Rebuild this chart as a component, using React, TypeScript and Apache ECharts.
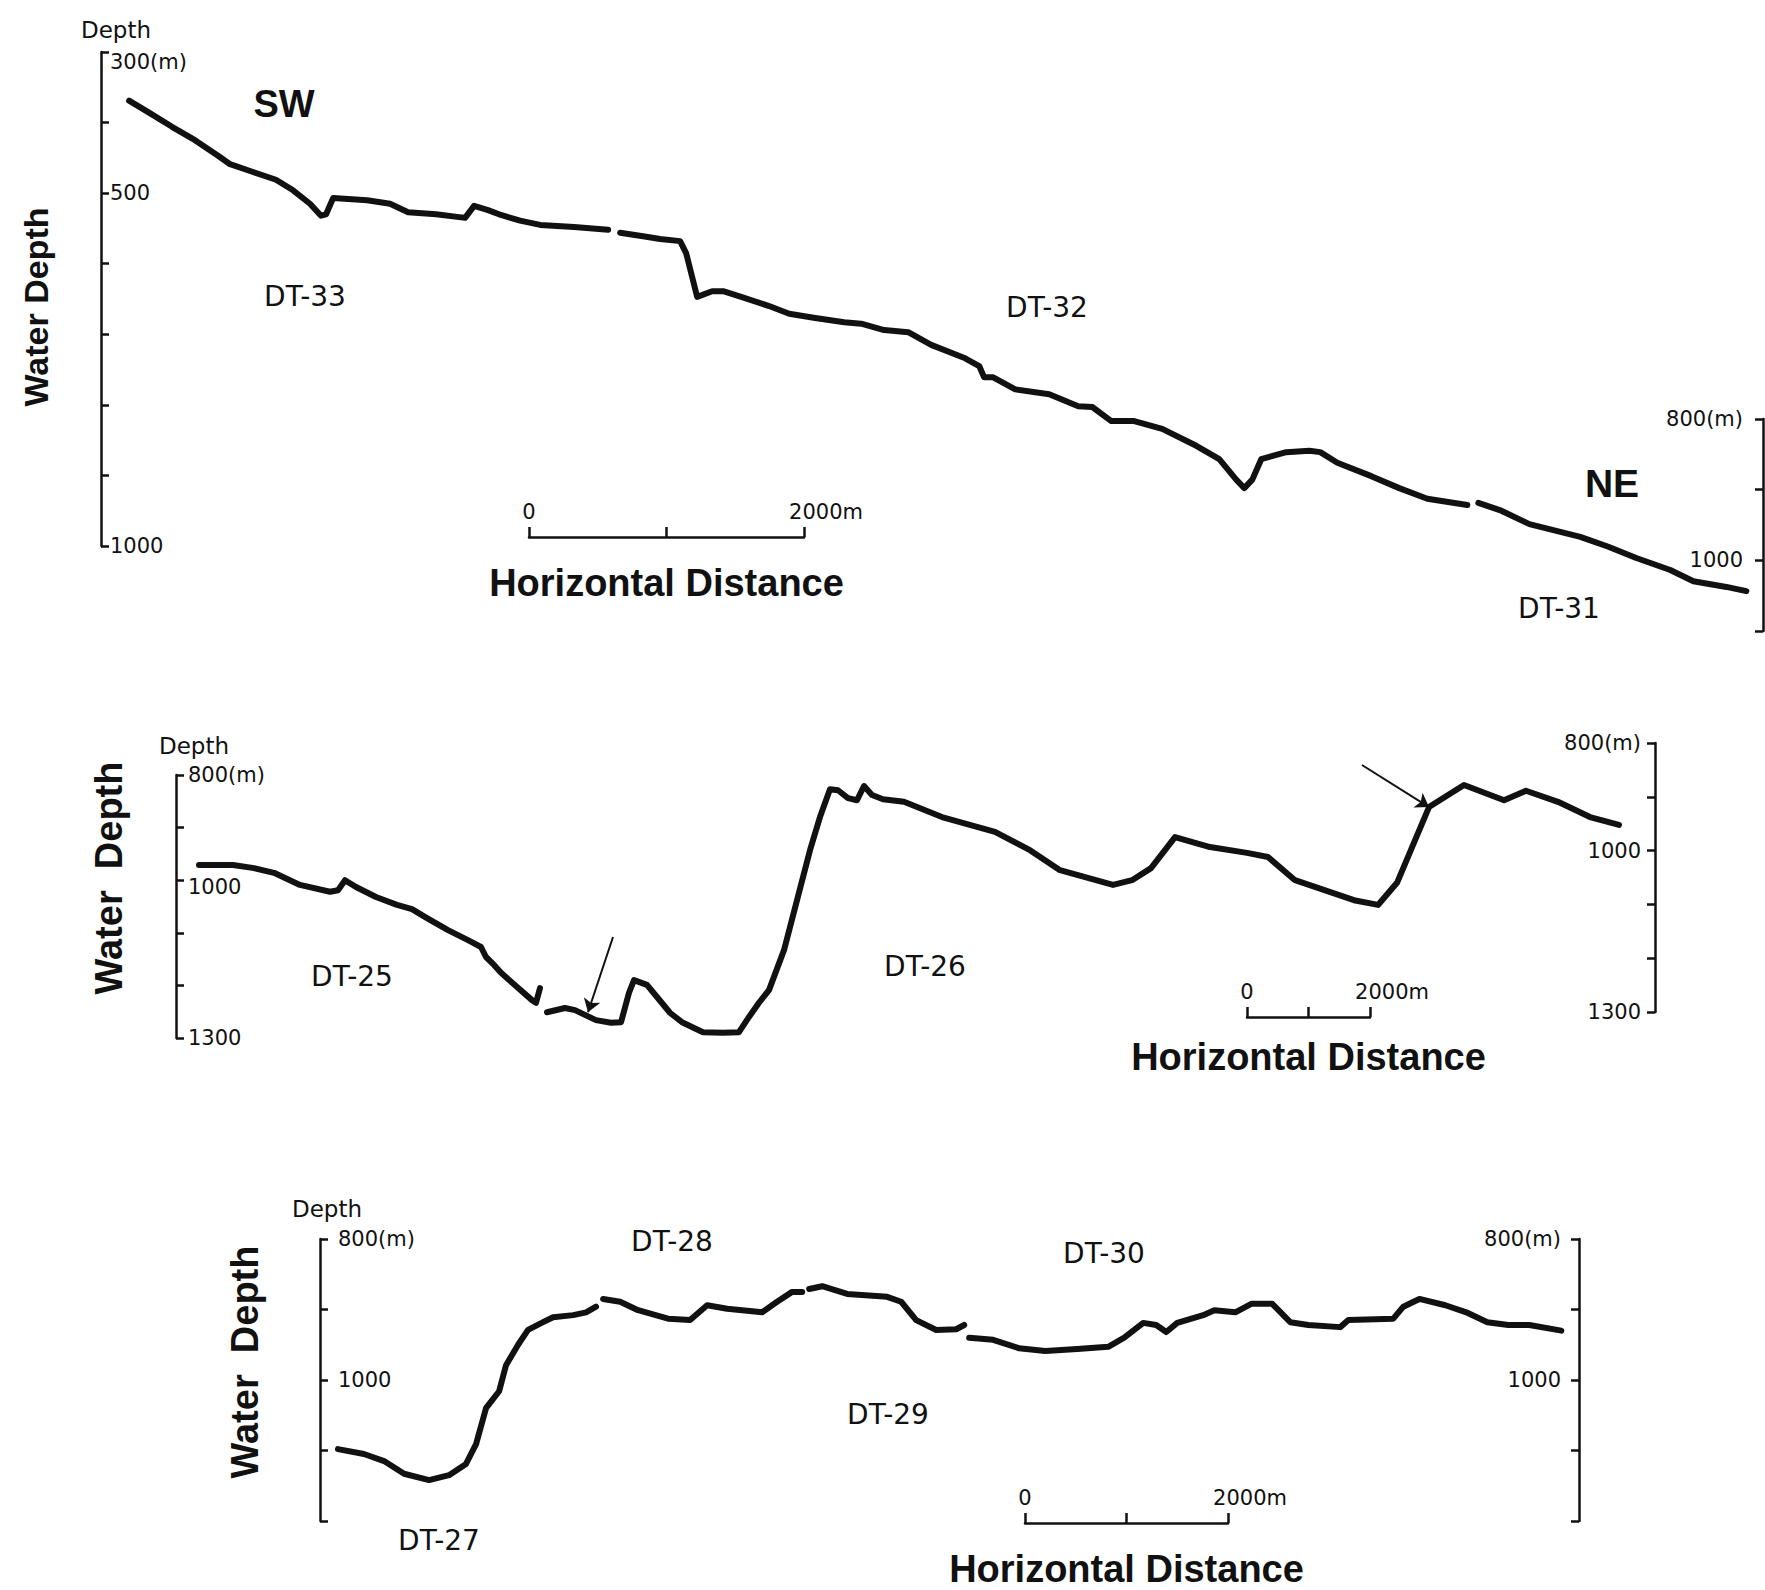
import React, { useEffect, useRef } from "react";
import * as echarts from "echarts";

// ---------- data (x: horizontal distance in m, y: water depth in m) ----------
// Top profile (SW -> NE): DT-33, DT-32, DT-31
const profileTopA = [[204,369],[349,386],[516,406],[683,425],[851,447],[938,459],[1105,470],[1272,481],[1396,496],[1519,515],[1599,532],[1636,530],[1687,507],[1934,510],[2101,515],[2232,527],[2435,530],[2603,534],[2646,535],[2712,518],[2813,524],[2893,530],[3046,539],[3192,545],[3439,548],[3686,552]];
const profileTopB = [[3773,556],[3940,561],[4064,565],[4209,568],[4253,585],[4297,619],[4333,647],[4442,639],[4522,639],[4653,647],[4856,660],[5002,671],[5191,677],[5402,683],[5525,685],[5692,694],[5867,697],[6034,715],[6281,734],[6383,745],[6419,761],[6485,761],[6645,778],[6892,785],[7103,802],[7205,803],[7343,823],[7510,823],[7713,834],[7961,858],[8128,877],[8251,906],[8310,918],[8368,906],[8433,877],[8615,867],[8782,865],[8862,867],[8986,882],[9233,901],[9436,918],[9640,933],[9931,942]];
const profileTopC = [[10011,939],[10178,950],[10382,969],[10752,987],[10956,1001],[11159,1017],[11406,1034],[11574,1050],[11814,1058],[11959,1064]];

// Middle profile: DT-25, DT-26
const profileMidA = [[374,971],[927,971],[1268,977],[1593,986],[2016,1009],[2504,1022],[2634,1019],[2748,1000],[2927,1013],[3252,1032],[3593,1047],[3837,1055],[4081,1072],[4423,1095],[4748,1114],[4959,1127],[5041,1146],[5171,1161],[5285,1176],[5545,1203],[5789,1228],[5854,1233],[5919,1205]];
const profileMidB = [[6032,1251],[6325,1243],[6488,1247],[6829,1266],[7073,1271],[7236,1270],[7366,1214],[7447,1190],[7658,1199],[7821,1222],[8032,1252],[8228,1270],[8569,1289],[8894,1290],[9154,1289],[9317,1260],[9479,1233],[9642,1209],[9886,1133],[10309,943],[10471,880],[10634,827],[10764,829],[10927,844],[11073,848],[11187,821],[11317,838],[11496,846],[11837,851],[12455,880],[13317,908],[13886,943],[14374,981],[15236,1009],[15545,1000],[15854,977],[16244,918],[16813,937],[17415,948],[17756,956],[18195,1000],[19154,1038],[19545,1047],[19854,1005],[20374,861],[20943,819],[21594,848],[21951,830],[22471,851],[22992,880],[23463,895]];
const arrowStarts = [[7106,1108],[19284,781]];
const arrowEnds = [[6699,1251],[20374,861]];

// Bottom profile: DT-27, DT-28, DT-29, DT-30
const profileBotA = [[177,1098],[433,1105],[631,1115],[828,1133],[1074,1142],[1271,1135],[1438,1119],[1537,1091],[1635,1040],[1764,1016],[1832,979],[1951,950],[2049,929],[2197,918],[2296,911],[2493,908],[2621,904],[2719,896]];
const profileBotB = [[2788,885],[2956,889],[3133,901],[3428,913],[3645,915],[3813,894],[4010,899],[4355,904],[4502,889],[4650,875],[4749,875]];
const profileBotC = [[4818,871],[4946,867],[5192,878],[5586,882],[5724,889],[5872,915],[6069,929],[6266,928],[6345,922]];
const profileBotD = [[6394,940],[6630,943],[6886,955],[7143,959],[7458,956],[7763,953],[7921,940],[8108,919],[8236,922],[8335,932],[8443,919],[8699,908],[8808,901],[9015,904],[9172,892],[9379,892],[9556,918],[9734,922],[10049,925],[10128,915],[10571,913],[10670,896],[10828,885],[11084,894],[11290,904],[11497,918],[11704,922],[11911,922],[12226,930]];

// tick labels
const topLeftLabels: Record<number, string> = { 300: "300(m)", 500: "500", 1000: "1000" };
const topRightLabels: Record<number, string> = { 800: "800(m)", 1000: "1000" };
const midLabels: Record<number, string> = { 800: "800(m)", 1000: "1000", 1300: "1300" };
const botLabels: Record<number, string> = { 800: "800(m)", 1000: "1000" };
const scaleLabels: Record<number, string> = { 0: "0", 2000: "2000m" };

const INK = "#111111";
const SMALL = "DejaVu Sans";
const BOLD = "Liberation Sans";

function yAx(gridIndex: number, position: string, min: number, max: number, labels: Record<number, string>, margin: number, shifts: Record<number, number> = {}) {
  return {
    type: "value",
    gridIndex,
    position,
    min,
    max,
    interval: 100,
    inverse: true,
    axisLine: { show: true, onZero: false, lineStyle: { color: INK, width: 2.5 } },
    axisTick: { show: true, inside: true, length: 8, lineStyle: { color: INK, width: 2.5 } },
    splitLine: { show: false },
    axisLabel: {
      show: true,
      inside: true,
      margin,
      showMinLabel: true,
      showMaxLabel: true,
      color: INK,
      fontFamily: SMALL,
      fontSize: 21,
      formatter: (v: number) => {
        const t = labels[v];
        if (!t) return "";
        if (shifts[v]) return "{s" + shifts[v] + "|" + t + "}";
        return t;
      },
      rich: Object.fromEntries(
        Object.values(shifts).map((p) => ["s" + p, { padding: [p, 0, 0, 0], fontFamily: SMALL, fontSize: 21, color: INK }])
      ),
    },
  };
}

function hiddenY(gridIndex: number) {
  return { type: "value", gridIndex, show: false, min: 0, max: 1 };
}
function hiddenX(gridIndex: number, max: number) {
  return { type: "value", gridIndex, show: false, min: 0, max };
}

function scaleAx(gridIndex: number, nameGap: number) {
  return {
    type: "value",
    gridIndex,
    position: "bottom",
    min: 0,
    max: 2000,
    interval: 1000,
    axisLine: { show: true, onZero: false, lineStyle: { color: INK, width: 2.5 } },
    axisTick: { show: true, inside: true, length: 10, lineStyle: { color: INK, width: 2.5 } },
    splitLine: { show: false },
    axisLabel: {
      show: true,
      inside: true,
      margin: 15,
      showMinLabel: true,
      showMaxLabel: true,
      color: INK,
      fontFamily: SMALL,
      fontSize: 21,
      formatter: (v: number) => {
        const t = scaleLabels[v];
        if (!t) return "";
        return v === 2000 ? "{m|" + t + "}" : t;
      },
      rich: { m: { padding: [0, 0, 0, 44], fontFamily: SMALL, fontSize: 21, color: INK } },
    },
    name: "Horizontal Distance",
    nameLocation: "middle",
    nameGap,
    nameTextStyle: { fontFamily: BOLD, fontWeight: "bold", fontSize: 38, color: INK },
  };
}

function lineSeries(data: number[][], xi: number, yi: number) {
  return {
    type: "line",
    xAxisIndex: xi,
    yAxisIndex: yi,
    data,
    showSymbol: false,
    symbol: "none",
    clip: false,
    silent: true,
    lineStyle: { color: INK, width: 6, cap: "round", join: "round" },
  };
}

function txt(text: string, x: number, y: number, size: number, bold = false, rotation = 0) {
  return {
    type: "text",
    x,
    y,
    rotation,
    silent: true,
    style: {
      text,
      fill: INK,
      fontSize: size,
      fontFamily: bold ? BOLD : SMALL,
      fontWeight: bold ? "bold" : "normal",
      align: "center",
      verticalAlign: "middle",
    },
  };
}

export default function App() {
  const ref = useRef<HTMLDivElement>(null);
  useEffect(() => {
    if (!ref.current) return;
    const chart = echarts.init(ref.current, undefined, { renderer: "svg" });
    const option: any = {
      animation: false,
      backgroundColor: "#ffffff",
      grid: [
        { left: 101, top: 52, width: 1651, height: 494 }, // 0 top profile
        { left: 1700, top: 419, width: 63, height: 212 }, // 1 top right axis
        { left: 529, top: 536, width: 275, height: 1 }, // 2 top scale bar
        { left: 176, top: 775, width: 1476, height: 263 }, // 3 middle profile
        { left: 1600, top: 743, width: 55, height: 269 }, // 4 middle right axis
        { left: 1247, top: 1016, width: 123, height: 1 }, // 5 middle scale bar
        { left: 320, top: 1239, width: 1259, height: 282 }, // 6 bottom profile
        { left: 1025, top: 1522, width: 203, height: 1 }, // 7 bottom scale bar
      ],
      xAxis: [
        hiddenX(0, 12000),
        hiddenX(1, 1),
        scaleAx(2, 27),
        hiddenX(3, 24000),
        hiddenX(4, 1),
        scaleAx(5, 21),
        hiddenX(6, 12400),
        scaleAx(7, 27),
      ],
      yAxis: [
        yAx(0, "left", 300, 1000, topLeftLabels, 9, { 300: 20 }),
        yAx(1, "right", 800, 1100, topRightLabels, 20),
        hiddenY(2),
        yAx(3, "left", 800, 1300, midLabels, 12, { 1000: 14 }),
        yAx(4, "right", 800, 1300, midLabels, 14),
        hiddenY(5),
        yAx(6, "left", 800, 1200, botLabels, 18),
        yAx(6, "right", 800, 1200, botLabels, 18),
        hiddenY(7),
      ],
      series: [
        lineSeries(profileTopA, 0, 0),
        lineSeries(profileTopB, 0, 0),
        lineSeries(profileTopC, 0, 0),
        lineSeries(profileMidA, 3, 3),
        lineSeries(profileMidB, 3, 3),
        lineSeries(profileBotA, 6, 6),
        lineSeries(profileBotB, 6, 6),
        lineSeries(profileBotC, 6, 6),
        lineSeries(profileBotD, 6, 6),
        {
          type: "lines",
          coordinateSystem: "cartesian2d",
          xAxisIndex: 3,
          yAxisIndex: 3,
          clip: false,
          silent: true,
          symbol: ["none", "arrow"],
          symbolSize: 13,
          lineStyle: { color: INK, width: 2, opacity: 1 },
          data: arrowStarts.map((s, i) => ({ coords: [s, arrowEnds[i]] })),
        },
      ],
      graphic: [
        // top panel
        txt("Depth", 116, 30, 23),
        txt("Water Depth", 36, 307, 34, true, Math.PI / 2),
        txt("SW", 284, 104, 38, true),
        txt("NE", 1612, 483, 39, true),
        txt("DT-33", 305, 296, 28),
        txt("DT-32", 1047, 307, 28),
        txt("DT-31", 1559, 608, 28),
        // middle panel
        txt("Depth", 194, 746, 23),
        txt("Water  Depth", 109, 878, 38, true, Math.PI / 2),
        txt("DT-25", 352, 976, 28),
        txt("DT-26", 925, 966, 28),
        // bottom panel
        txt("Depth", 327, 1209, 23),
        txt("Water  Depth", 245, 1362, 38, true, Math.PI / 2),
        txt("DT-27", 439, 1540, 28),
        txt("DT-28", 672, 1241, 28),
        txt("DT-29", 888, 1414, 28),
        txt("DT-30", 1104, 1253, 28),
      ],
    };
    chart.setOption(option);
    return () => chart.dispose();
  }, []);
  return (
    <div
      ref={ref}
      style={{ position: "absolute", left: 0, top: 0, width: 1765, height: 1590, background: "#ffffff" }}
    />
  );
}
